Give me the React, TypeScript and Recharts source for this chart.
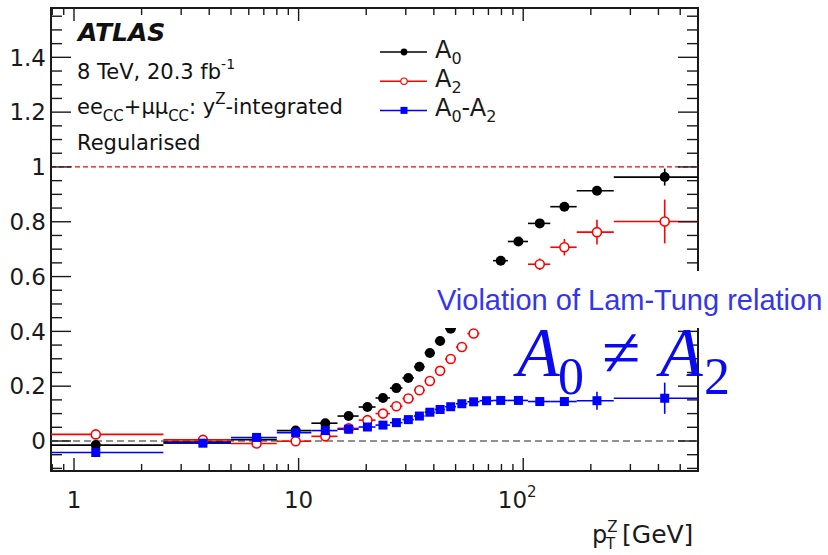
import React from 'react'
import { ComposedChart, Scatter, ErrorBar, XAxis, YAxis, ReferenceLine, ReferenceArea, Legend } from 'recharts'

// pT(Z) bin edges [GeV]
const BIN_LO = [0, 2.5, 5, 8, 11.4, 14.9, 18.5, 22, 25.5, 29, 32.6, 36.4, 40.4, 44.9, 50.2, 56.4, 63.9, 73.4, 85.4, 105, 132, 173, 253]
const BIN_HI = [2.5, 5, 8, 11.4, 14.9, 18.5, 22, 25.5, 29, 32.6, 36.4, 40.4, 44.9, 50.2, 56.4, 63.9, 73.4, 85.4, 105, 132, 173, 253, 600]

const A0 = [-0.015, -0.004, 0.005, 0.038, 0.065, 0.091, 0.124, 0.157, 0.193, 0.23, 0.271, 0.321, 0.365, 0.41, 0.46, 0.525, 0.595, 0.658, 0.728, 0.794, 0.855, 0.913, 0.963]
const A0_ERR = [0.004, 0.003, 0.003, 0.003, 0.003, 0.003, 0.003, 0.003, 0.003, 0.003, 0.003, 0.003, 0.004, 0.004, 0.004, 0.004, 0.005, 0.005, 0.006, 0.007, 0.009, 0.012, 0.031]

const A2 = [0.024, 0.004, -0.009, -0.001, 0.017, 0.046, 0.076, 0.1, 0.127, 0.155, 0.185, 0.219, 0.256, 0.299, 0.343, 0.392, 0.45, 0.512, 0.58, 0.645, 0.707, 0.762, 0.801]
const A2_ERR = [0.005, 0.004, 0.004, 0.004, 0.004, 0.004, 0.004, 0.004, 0.004, 0.004, 0.004, 0.005, 0.005, 0.005, 0.006, 0.006, 0.008, 0.01, 0.014, 0.021, 0.03, 0.045, 0.08]

const DIFF = [-0.042, -0.008, 0.013, 0.03, 0.038, 0.043, 0.051, 0.058, 0.067, 0.078, 0.091, 0.105, 0.115, 0.125, 0.136, 0.143, 0.147, 0.148, 0.148, 0.144, 0.144, 0.147, 0.156]
const DIFF_ERR = [0.004, 0.003, 0.003, 0.003, 0.003, 0.003, 0.003, 0.003, 0.003, 0.003, 0.003, 0.003, 0.003, 0.003, 0.003, 0.004, 0.004, 0.004, 0.005, 0.008, 0.013, 0.033, 0.057]

const X_MAJOR = [1, 10, 100]
const X_MINOR = [0.8, 0.9, 2, 3, 4, 5, 6, 7, 8, 9, 20, 30, 40, 50, 60, 70, 80, 90, 200, 300, 400, 500, 600]
const Y_MAJOR = [0, 0.2, 0.4, 0.6, 0.8, 1, 1.2, 1.4]
const Y_MINOR_STEP = 0.05

const X_DOMAIN: [number, number] = [0.79, 600]
const Y_DOMAIN: [number, number] = [-0.1095, 1.58]

const W = 828
const H = 555
const Y_AXIS_W = 51
const X_AXIS_H = 84
const MARGIN = { top: 8, right: 130, bottom: 0, left: 0 }
const PLOT_TOP = MARGIN.top
const PLOT_RIGHT = W - MARGIN.right
const AXIS_COLOR = '#1a1a1a'
const FONT = '"DejaVu Sans", sans-serif'

const yTicks: number[] = []
for (let v = -0.1; v <= Y_DOMAIN[1] + 1e-9; v += Y_MINOR_STEP) yTicks.push(Math.round(v * 100) / 100)
const xTicks = [...X_MAJOR, ...X_MINOR].sort((a, b) => a - b)

const rows = (vals: number[], errs: number[]) =>
  vals.map((v, i) => {
    const c = (BIN_LO[i] + BIN_HI[i]) / 2
    const lo = Math.max(BIN_LO[i], X_DOMAIN[0])
    return { x: c, y: v, ex: [c - lo, BIN_HI[i] - c], ey: errs[i] }
  })

const a0Data = rows(A0, A0_ERR)
const a2Data = rows(A2, A2_ERR)
const diffData = rows(DIFF, DIFF_ERR)

const isMajor = (list: number[], v: number) => list.some((m) => Math.abs(m - v) < 1e-6)

const YTick = (props: any) => {
  const { x, y, payload } = props
  const v = payload.value
  const major = isMajor(Y_MAJOR, v)
  const len = major ? 20 : 11
  return (
    <g>
      <line x1={x} x2={x + len} y1={y} y2={y} stroke={AXIS_COLOR} strokeWidth={1.4} />
      <line x1={PLOT_RIGHT} x2={PLOT_RIGHT - len} y1={y} y2={y} stroke={AXIS_COLOR} strokeWidth={1.4} />
      {major && (
        <text x={x - 5} y={y} dy="0.36em" textAnchor="end" fontFamily={FONT} fontSize={23} fill={AXIS_COLOR}>
          {String(v)}
        </text>
      )}
    </g>
  )
}

const XTick = (props: any) => {
  const { x, y, payload } = props
  const v = payload.value
  const major = isMajor(X_MAJOR, v)
  const len = major ? 13 : 7
  return (
    <g>
      <line x1={x} x2={x} y1={y} y2={y - len} stroke={AXIS_COLOR} strokeWidth={1.4} />
      <line x1={x} x2={x} y1={PLOT_TOP} y2={PLOT_TOP + len} stroke={AXIS_COLOR} strokeWidth={1.4} />
      {major && v < 100 && (
        <text x={x} y={y + 37} textAnchor="middle" fontFamily={FONT} fontSize={23} fill={AXIS_COLOR}>
          {String(v)}
        </text>
      )}
      {major && v === 100 && (
        <text x={x - 6} y={y + 37} textAnchor="middle" fontFamily={FONT} fontSize={23} fill={AXIS_COLOR}>
          10<tspan fontSize={15} dy={-11}>2</tspan>
        </text>
      )}
    </g>
  )
}

const dot = (color: string) => (p: any) => <circle cx={p.cx} cy={p.cy} r={5} fill={color} />
const ring = (color: string) => (p: any) => (
  <circle cx={p.cx} cy={p.cy} r={4.5} fill="#fff" stroke={color} strokeWidth={1.6} />
)
const square = (color: string) => (p: any) => <rect x={p.cx - 4.5} y={p.cy - 4.5} width={9} height={9} fill={color} />

const LEGEND_ITEMS = [
  { id: 'a0', color: '#000000', marker: 'dot' },
  { id: 'a2', color: '#ff0000', marker: 'ring' },
  { id: 'diff', color: '#0000ff', marker: 'square' },
]

const renderLegend = () => (
  <svg width={140} height={92}>
    {LEGEND_ITEMS.map((it, i) => {
      const cy = 16 + i * 29.2
      return (
        <g key={it.id}>
          <line x1={8} x2={55} y1={cy} y2={cy} stroke={it.color} strokeWidth={1.5} />
          {it.marker === 'dot' && <circle cx={32} cy={cy} r={3.4} fill={it.color} />}
          {it.marker === 'ring' && <circle cx={32} cy={cy} r={3.2} fill="#fff" stroke={it.color} strokeWidth={1.2} />}
          {it.marker === 'square' && <rect x={28.5} y={cy - 3.5} width={7} height={7} fill={it.color} />}
          <text x={63} y={cy + 5.5} fontFamily={FONT} fontSize={24} fill={AXIS_COLOR}>
            {it.id === 'a0' && (<>A<tspan fontSize={16} dy={6}>0</tspan></>)}
            {it.id === 'a2' && (<>A<tspan fontSize={16} dy={6}>2</tspan></>)}
            {it.id === 'diff' && (
              <>A<tspan fontSize={16} dy={6}>0</tspan><tspan dy={-6}>-A</tspan><tspan fontSize={16} dy={6}>2</tspan></>
            )}
          </text>
        </g>
      )
    })}
  </svg>
)

export default function App() {
  return (
    <div style={{ position: 'absolute', left: 0, top: 0, width: W, height: H, background: '#fff' }}>
      <ComposedChart width={W} height={H} margin={MARGIN}>
        <XAxis
          dataKey="x"
          type="number"
          scale="log"
          domain={X_DOMAIN}
          allowDataOverflow
          ticks={xTicks}
          interval={0}
          height={X_AXIS_H}
          tickSize={0}
          tickMargin={0}
          tickLine={false}
          axisLine={false}
          tick={<XTick />}
        />
        <YAxis
          type="number"
          domain={Y_DOMAIN}
          allowDataOverflow
          ticks={yTicks}
          interval={0}
          width={Y_AXIS_W}
          tickSize={0}
          tickMargin={0}
          tickLine={false}
          axisLine={false}
          tick={<YTick />}
        />
        <ReferenceArea
          x1={X_DOMAIN[0]}
          x2={X_DOMAIN[1]}
          y1={Y_DOMAIN[0]}
          y2={Y_DOMAIN[1]}
          fill="none"
          stroke={AXIS_COLOR}
          strokeWidth={2}
          ifOverflow="visible"
        />
        <ReferenceLine y={1} stroke="#ff0000" strokeDasharray="5 3" strokeWidth={1.3} />
        <ReferenceLine y={0} stroke="#6e6e6e" strokeDasharray="7 4" strokeWidth={1.3} />
        <Scatter data={a0Data} dataKey="y" shape={dot('#000000')} isAnimationActive={false} legendType="none">
          <ErrorBar direction="x" dataKey="ex" width={0} stroke="#000000" strokeWidth={1.6} isAnimationActive={false} />
          <ErrorBar direction="y" dataKey="ey" width={0} stroke="#000000" strokeWidth={1.6} isAnimationActive={false} />
        </Scatter>
        <Scatter data={a2Data} dataKey="y" shape={ring('#ff0000')} isAnimationActive={false} legendType="none">
          <ErrorBar direction="x" dataKey="ex" width={0} stroke="#ff0000" strokeWidth={1.6} isAnimationActive={false} />
          <ErrorBar direction="y" dataKey="ey" width={0} stroke="#ff0000" strokeWidth={1.6} isAnimationActive={false} />
        </Scatter>
        <Scatter data={diffData} dataKey="y" shape={square('#0000ff')} isAnimationActive={false} legendType="none">
          <ErrorBar direction="x" dataKey="ex" width={0} stroke="#0000ff" strokeWidth={1.6} isAnimationActive={false} />
          <ErrorBar direction="y" dataKey="ey" width={0} stroke="#0000ff" strokeWidth={1.6} isAnimationActive={false} />
        </Scatter>
        <Legend
          content={renderLegend}
          layout="horizontal"
          verticalAlign="middle"
          align="center"
          wrapperStyle={{ position: 'absolute', left: 372, top: 36, width: 140, height: 92 }}
        />
      </ComposedChart>

      <svg width={W} height={H} style={{ position: 'absolute', left: 0, top: 0, pointerEvents: 'none' }}>
        <text x={78} y={41} fontFamily={FONT} fontWeight="bold" fontStyle="italic" fontSize={25} fill="#111">
          ATLAS
        </text>
        <text x={77} y={79} fontFamily={FONT} fontSize={21} fill="#111">
          8 TeV, 20.3 fb<tspan fontSize={14} dy={-10}>-1</tspan>
        </text>
        <text x={77} y={114} fontFamily={FONT} fontSize={21} fill="#111">
          ee<tspan fontSize={15} dy={7}>CC</tspan>
          <tspan dy={-7}>+μμ</tspan>
          <tspan fontSize={15} dy={7}>CC</tspan>
          <tspan dy={-7}>: y</tspan>
          <tspan fontSize={15} dy={-10}>Z</tspan>
          <tspan dy={10}>-integrated</tspan>
        </text>
        <text x={77} y={150} fontFamily={FONT} fontSize={21} fill="#111">
          Regularised
        </text>
        <text x={592} y={543} fontFamily={FONT} fontSize={24} fill={AXIS_COLOR}>
          p<tspan fontSize={15} dy={-11}>Z</tspan>
          <tspan fontSize={15} x={606} dy={17}>T</tspan>
          <tspan x={622} dy={-6} fontSize={25}>[GeV]</tspan>
        </text>

        <rect x={432} y={271} width={W - 432} height={57} fill="#fff" />
        <text x={437} y={310} fontFamily='"Liberation Sans", Arial, sans-serif' fontSize={29} fill="#3535ee">
          Violation of Lam-Tung relation
        </text>
        <text y={376} fontFamily='"Liberation Serif", "Times New Roman", serif' fill="#0a0af0">
          <tspan x={517} fontSize={70} fontStyle="italic">A</tspan>
          <tspan x={558} dy={18} fontSize={52}>0</tspan>
          <tspan x={602} dy={-18} fontSize={70}>≠</tspan>
          <tspan x={660} fontSize={70} fontStyle="italic">A</tspan>
          <tspan x={704} dy={18} fontSize={52}>2</tspan>
        </text>
      </svg>
    </div>
  )
}
